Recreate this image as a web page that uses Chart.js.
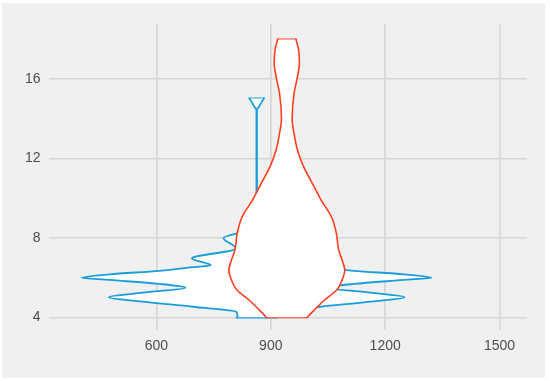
<!DOCTYPE html>
<html>
<head>
<meta charset="utf-8">
<script src="https://cdn.jsdelivr.net/npm/chart.js@4"></script>
<style>
  html, body { margin: 0; padding: 0; background: #fff; }
  #panel { position: absolute; left: 2px; top: 3px; width: 543px; height: 375px; background: #f0f0f0; }
  #wrap { position: absolute; left: 0; top: 0; width: 550px; height: 381px; }
</style>
</head>
<body>
<div id="panel"></div>
<div id="wrap"><canvas id="violinChart" width="550" height="381"></canvas></div>
<script>
const xTicks = [600, 900, 1200, 1500];
const yTicks = [4, 8, 12, 16];

// blue violin: centre and half-width at each level
const blueCenter = 863;
const blueY    = [4.0, 4.05, 4.29, 4.54, 4.8, 5.02, 5.25, 5.5, 5.69, 5.89, 6.0, 6.17, 6.35, 6.53, 6.63, 6.97, 7.47, 8.0, 8.3, 8.6, 9.2, 14.44, 14.6, 14.8, 15.03];
const blueHalf = [52, 50, 54, 168, 299, 388, 299, 187, 255, 386, 458, 386, 255, 168, 120, 170, 54, 87, 40, 8, 0.6, 0.6, 5.6, 11.8, 19];

// red violin
const redCenter = 942;
const redY    = [4.0, 4.88, 5.38, 5.88, 6.39, 6.89, 7.40, 8.24, 9.07, 9.91, 10.75, 11.59, 12.43, 13.27, 14.0, 15.28, 16.12, 16.8, 17.46, 18.0];
const redHalf = [53, 99, 131, 145, 152, 145, 136, 130, 117, 90, 67, 44, 28, 19, 14, 19, 28, 33, 31, 24];

const BLUE = '#1a9ddb';
const RED = '#ff3d1f';

function edge(center, ys, hs, sign) {
    return ys.map((y, i) => ({ x: center + sign * hs[i], y: y }));
}
function cap(center, y, h) {
    return [{ x: center - h, y: y }, { x: center + h, y: y }];
}
function side(data, color, width, order, fill) {
    return {
        data: data,
        borderColor: color,
        borderWidth: width,
        backgroundColor: '#ffffff',
        fill: fill,
        pointRadius: 0,
        cubicInterpolationMode: 'monotone',
        borderCapStyle: 'round',
        borderJoinStyle: 'round',
        order: order
    };
}
function capLine(data, color, width, order) {
    return {
        data: data,
        borderColor: color,
        borderWidth: width,
        fill: false,
        pointRadius: 0,
        tension: 0,
        borderCapStyle: 'round',
        order: order
    };
}

const last = a => a[a.length - 1];

const ctx = document.getElementById('violinChart').getContext('2d');
const tickFont = { family: "'Liberation Sans', Arial, sans-serif", size: 14 };

new Chart(ctx, {
    type: 'line',
    data: {
        datasets: [
            side(edge(redCenter, redY, redHalf, -1), RED, 1.6, 1, false),
            side(edge(redCenter, redY, redHalf, 1), RED, 1.6, 1, '-1'),
            capLine(cap(redCenter, redY[0], redHalf[0]), RED, 1.6, 1),
            capLine(cap(redCenter, last(redY), last(redHalf)), RED, 1.6, 1),
            side(edge(blueCenter, blueY, blueHalf, -1), BLUE, 1.8, 2, false),
            side(edge(blueCenter, blueY, blueHalf, 1), BLUE, 1.8, 2, '-1'),
            capLine(cap(blueCenter, blueY[0], blueHalf[0]), BLUE, 1.8, 2),
            capLine(cap(blueCenter, last(blueY), last(blueHalf)), BLUE, 1.8, 2)
        ]
    },
    options: {
        indexAxis: 'y',
        responsive: false,
        animation: false,
        layout: { padding: { left: 0, right: 23, top: 24, bottom: 0 } },
        plugins: { legend: { display: false }, tooltip: { enabled: false } },
        scales: {
            x: {
                type: 'linear',
                min: 317,
                max: 1572,
                afterBuildTicks: s => { s.ticks = xTicks.map(v => ({ value: v })); },
                afterFit: s => { s.height = 51; },
                grid: { color: '#d6d6d6', lineWidth: 1.6, drawTicks: false },
                border: { display: false },
                ticks: { color: '#4d4d4d', font: tickFont, padding: 8, callback: v => String(v) }
            },
            y: {
                type: 'linear',
                min: 3.37,
                max: 18.77,
                afterBuildTicks: s => { s.ticks = yTicks.map(v => ({ value: v })); },
                afterFit: s => { s.width = 48.5; },
                grid: { color: '#d6d6d6', lineWidth: 1.6, drawTicks: false },
                border: { display: false },
                ticks: { color: '#4d4d4d', font: tickFont, padding: 8, callback: v => String(v) }
            }
        }
    }
});
</script>
</body>
</html>
